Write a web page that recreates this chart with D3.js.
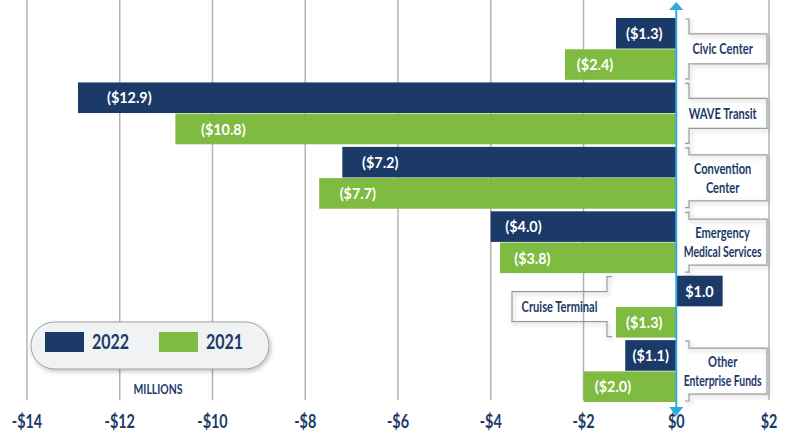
<!DOCTYPE html>
<html>
<head>
<meta charset="utf-8">
<script src="https://cdn.jsdelivr.net/npm/d3@7"></script>
<style>
  html, body { margin: 0; padding: 0; background: #fff; }
  svg { display: block; font-family: Lato, "Open Sans", sans-serif; }
</style>
</head>
<body>
<div id="rootDiv"></div>
<script>
const categories = ["Civic Center", "WAVE Transit", "Convention Center", "Emergency Medical Services", "Cruise Terminal", "Other Enterprise Funds"]
const labelLines = [["Civic Center"], ["WAVE Transit"], ["Convention", "Center"], ["Emergency", "Medical Services"], ["Cruise Terminal"], ["Other", "Enterprise Funds"]]
const years = ["2022", "2021"]
const values2022 = [-1.3, -12.9, -7.2, -4.0, 1.0, -1.1]
const values2021 = [-2.4, -10.8, -7.7, -3.8, -1.3, -2.0]
const xTicks = [-14, -12, -10, -8, -6, -4, -2, 0, 2]

const navy = "#1b3a68"
const green = "#80bb41"
const grid = "#b3b3b3"
const axisBlue = "#2eaae1"

const width = 788
const height = 433
const svg = d3.select("#rootDiv").append("svg")
    .attr("width", width)
    .attr("height", height)

// squeeze text horizontally (the original font is a condensed one)
function squeeze(sel, f) {
    sel.each(function () {
        const w = this.getComputedTextLength() * f
        d3.select(this).attr("textLength", w).attr("lengthAdjust", "spacingAndGlyphs")
    })
}

const x = d3.scaleLinear().domain([-14, 2]).range([27, 769])
const y = d3.scaleBand().domain(categories).range([18, 402]).paddingInner(0.04)
const ySub = d3.scaleBand().domain(years).range([0, y.bandwidth()]).paddingInner(0.02)
const color = d3.scaleOrdinal().domain(years).range([navy, green])

const defs = svg.append("defs")
const shadow = defs.append("filter").attr("id", "shadow").attr("x", "-20%").attr("y", "-30%").attr("width", "140%").attr("height", "170%")
shadow.append("feDropShadow").attr("dx", 1.5).attr("dy", 2).attr("stdDeviation", 2).attr("flood-color", "#000").attr("flood-opacity", 0.25)

// gridlines
svg.append("g")
    .selectAll("line")
    .data(xTicks.filter(d => d !== 0))
    .enter()
    .append("line")
    .attr("x1", d => x(d)).attr("x2", d => x(d))
    .attr("y1", 0).attr("y2", 400)
    .attr("stroke", grid)
    .attr("stroke-width", 1.5)

// tick labels
const tickText = svg.append("g")
    .selectAll("text")
    .data(xTicks)
    .enter()
    .append("text")
    .attr("x", d => x(d))
    .attr("y", 428)
    .attr("text-anchor", "middle")
    .attr("fill", navy)
    .attr("font-size", 18)
    .attr("font-weight", "bold")
    .text(d => (d < 0 ? "-$" : "$") + Math.abs(d))
squeeze(tickText, 0.8)

// rows
const rows = categories.map((c, i) => ({ cat: c, lines: labelLines[i], vals: [values2022[i], values2021[i]] }))
const bars = []
rows.forEach(r => years.forEach((yr, j) => bars.push({ cat: r.cat, year: yr, v: r.vals[j] })))

const barG = svg.append("g")
barG.selectAll("rect")
    .data(bars)
    .enter()
    .append("rect")
    .attr("x", d => x(Math.min(0, d.v)))
    .attr("y", d => y(d.cat) + ySub(d.year))
    .attr("width", d => Math.abs(x(d.v) - x(0)))
    .attr("height", ySub.bandwidth())
    .attr("fill", d => color(d.year))

// value labels
const valText = barG.selectAll("text")
    .data(bars)
    .enter()
    .append("text")
    .attr("y", d => y(d.cat) + ySub(d.year) + ySub.bandwidth() / 2)
    .attr("dy", "0.36em")
    .attr("fill", "#fff")
    .attr("font-size", 16)
    .attr("font-weight", "bold")
    .text(d => d.v < 0 ? `($${Math.abs(d.v).toFixed(1)})` : `$${d.v.toFixed(1)}`)
squeeze(valText, 0.9)
valText.each(function (d) {
    const tw = +d3.select(this).attr("textLength")
    const bw = Math.abs(x(d.v) - x(0))
    const left = x(Math.min(0, d.v))
    const pad = Math.min(bw * 0.035 + 8, (bw - tw) / 2)
    d3.select(this).attr("x", left + pad)
})

// category labels with bracket boxes
const labG = svg.append("g")
rows.forEach(r => {
    const top = y(r.cat) + 1
    const bottom = y(r.cat) + y.bandwidth() - 1
    const mid = (top + bottom) / 2
    const boxH = r.lines.length > 1 ? 46 : 30
    const onLeft = r.cat === "Cruise Terminal"
    let path, tx
    if (onLeft) {
        const bx = 607, ex = 512
        path = `M${bx + 5},${top}H${bx}V${mid - boxH / 2}H${ex}V${mid + boxH / 2}H${bx}V${bottom}H${bx + 5}`
        tx = (bx + ex) / 2
    } else {
        const bx = 689, ex = 767
        path = `M${bx - 4},${top}H${bx}V${mid - boxH / 2}H${ex}V${mid + boxH / 2}H${bx}V${bottom}H${bx - 4}`
        tx = (x(0) + x(2)) / 2
    }
    labG.append("path")
        .attr("d", path)
        .attr("fill", "none")
        .attr("stroke", "#9a9a9a")
        .attr("stroke-width", 1.2)
        .attr("filter", "url(#shadow)")
    r.lines.forEach((ln, k) => {
        const t = labG.append("text")
            .attr("text-anchor", "middle")
            .attr("dy", "0.36em")
            .attr("fill", navy)
            .attr("font-size", 15)
            .attr("font-weight", "bold")
            .text(ln)
        const s = Math.min(0.74, 78 / t.node().getComputedTextLength())
        t.attr("transform", `translate(${tx},${mid + (k - (r.lines.length - 1) / 2) * 19}) scale(${s},1)`)
    })
})

// zero axis with arrows
const x0 = x(0)
svg.append("line")
    .attr("x1", x0).attr("x2", x0)
    .attr("y1", 9).attr("y2", 408)
    .attr("stroke", axisBlue)
    .attr("stroke-width", 2)
svg.append("path")
    .attr("d", `M${x0},2L${x0 + 7},10L${x0 - 7},10Z`)
    .attr("fill", axisBlue)
svg.append("path")
    .attr("d", `M${x0},416L${x0 + 7},407L${x0 - 7},407Z`)
    .attr("fill", axisBlue)

// legend
const leg = svg.append("g")
leg.append("rect")
    .attr("x", 31).attr("y", 322)
    .attr("width", 238).attr("height", 47)
    .attr("rx", 23.5)
    .attr("fill", "#f1f2f4")
    .attr("stroke", "#a0a0a0")
    .attr("stroke-width", 1)
    .attr("filter", "url(#shadow)")
const legItems = leg.selectAll("g.item")
    .data(years)
    .enter()
    .append("g")
    .attr("class", "item")
    .attr("transform", (d, i) => `translate(${45 + i * 114},332)`)
legItems.append("rect")
    .attr("width", 39).attr("height", 20)
    .attr("fill", d => color(d))
const legText = legItems.append("text")
    .attr("x", 47).attr("y", 10)
    .attr("dy", "0.36em")
    .attr("fill", navy)
    .attr("font-size", 20)
    .attr("font-weight", "bold")
    .text(d => d)
squeeze(legText, 0.8)

const mil = svg.append("text")
    .attr("x", 158).attr("y", 389)
    .attr("dy", "0.36em")
    .attr("text-anchor", "middle")
    .attr("fill", navy)
    .attr("font-size", 13)
    .attr("font-weight", "bold")
    .text("MILLIONS")
squeeze(mil, 0.8)
</script>
</body>
</html>
